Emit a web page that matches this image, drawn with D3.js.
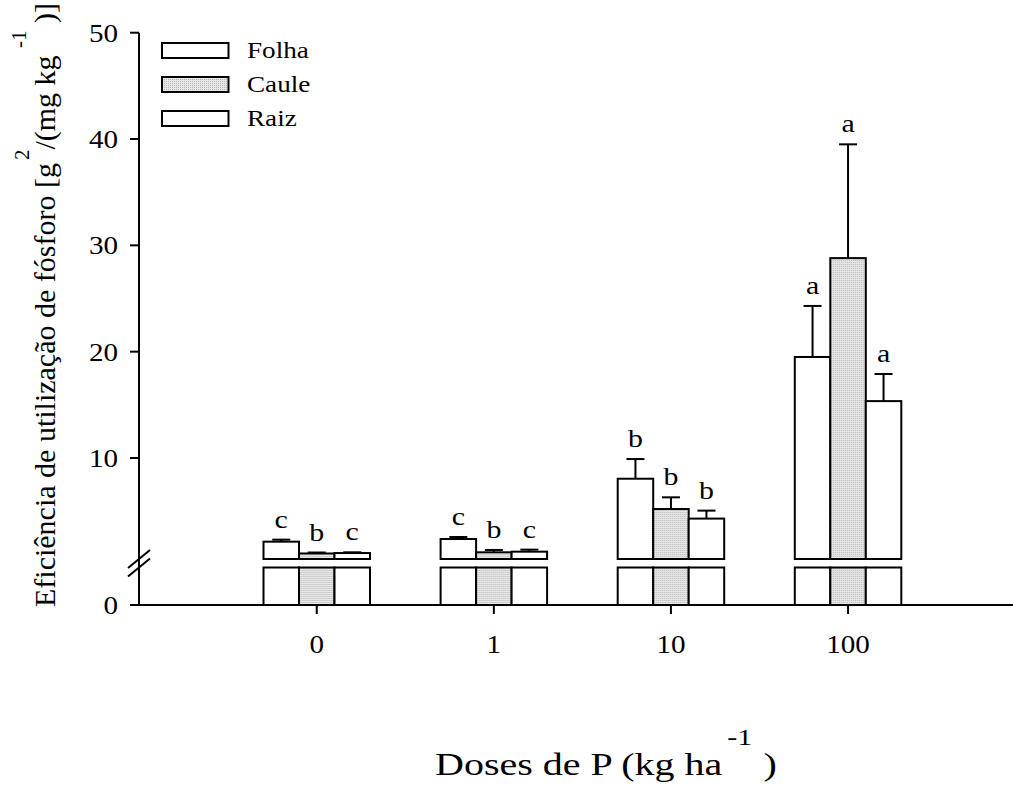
<!DOCTYPE html>
<html>
<head>
<meta charset="utf-8">
<script src="https://cdn.jsdelivr.net/npm/d3@7"></script>
<style>
  html, body { margin: 0; padding: 0; background: #fff; }
  svg text { font-family: "Liberation Serif", "Times New Roman", serif; fill: #000; }
</style>
</head>
<body>
<svg id="chart" width="1013" height="787"></svg>
<script>
// Phosphorus use efficiency by plant part and P dose
const doses = ["0", "1", "10", "100"];
const series = ["Folha", "Caule", "Raiz"];

const folha    = [2.13, 2.38, 8.05, 19.5];
const folhaErr = [0.19, 0.19, 1.85, 4.8];
const caule    = [1.02, 1.13, 5.2, 28.8];
const cauleErr = [0.09, 0.22, 1.1, 10.7];
const raiz     = [1.06, 1.19, 4.3, 15.35];
const raizErr  = [0.07, 0.19, 0.75, 2.55];

const folhaLetters = ["c", "c", "b", "a"];
const cauleLetters = ["b", "b", "b", "a"];
const raizLetters  = ["c", "c", "b", "a"];

const yTicksUpper = [10, 20, 30, 40, 50];
const yTicksLower = [0];
const breakValue = 0.5;

const svg = d3.select("#chart");
const defs = svg.append("defs");

// stippled grey fill for the stem series
const pat = defs.append("pattern")
  .attr("id", "stipple").attr("patternUnits", "userSpaceOnUse")
  .attr("width", 2).attr("height", 2);
pat.append("rect").attr("width", 2).attr("height", 2).attr("fill", "#e6e6e6");
pat.append("rect").attr("width", 1).attr("height", 1).attr("fill", "#b8b8b8");

const fills = { Folha: "#ffffff", Caule: "url(#stipple)", Raiz: "#ffffff" };

const rows = doses.map((d, i) => ({
  dose: d,
  bars: [
    { key: "Folha", v: folha[i], e: folhaErr[i], l: folhaLetters[i] },
    { key: "Caule", v: caule[i], e: cauleErr[i], l: cauleLetters[i] },
    { key: "Raiz",  v: raiz[i],  e: raizErr[i],  l: raizLetters[i] }
  ]
}));

// scales: broken y axis, lower and upper segments
const yAxisX = 139;
const yLow = d3.scaleLinear().domain([0, breakValue]).range([605, 567.5]);
const yUp  = d3.scaleLinear().domain([breakValue, 50]).range([559, 32.7]);

const x0 = d3.scaleBand().domain(doses).range([228.2, 936.6]).padding(0);
const groupW = 106.5;
const x1 = d3.scaleBand().domain(series).range([0, groupW]).padding(0);

const plot = svg.append("g");

// bars
const groups = plot.selectAll("g.grp").data(rows).join("g")
  .attr("class", "grp")
  .attr("transform", d => `translate(${x0(d.dose) + x0.bandwidth() / 2 - groupW / 2},0)`);

const bar = groups.selectAll("g.bar").data(d => d.bars).join("g").attr("class", "bar");

// lower segment piece
bar.append("rect")
  .attr("x", d => x1(d.key))
  .attr("width", x1.bandwidth())
  .attr("y", d => yLow(Math.min(d.v, breakValue)))
  .attr("height", d => yLow(0) - yLow(Math.min(d.v, breakValue)))
  .attr("fill", d => fills[d.key])
  .attr("stroke", "#000").attr("stroke-width", 2);

// upper segment piece
bar.filter(d => d.v > breakValue).append("rect")
  .attr("x", d => x1(d.key))
  .attr("width", x1.bandwidth())
  .attr("y", d => yUp(d.v))
  .attr("height", d => yUp(breakValue) - yUp(d.v))
  .attr("fill", d => fills[d.key])
  .attr("stroke", "#000").attr("stroke-width", 2);

// error bars (upper whisker only)
const capW = 18;
bar.append("line")
  .attr("x1", d => x1(d.key) + x1.bandwidth() / 2)
  .attr("x2", d => x1(d.key) + x1.bandwidth() / 2)
  .attr("y1", d => yUp(d.v))
  .attr("y2", d => yUp(d.v + d.e))
  .attr("stroke", "#000").attr("stroke-width", 2);
bar.append("line")
  .attr("x1", d => x1(d.key) + x1.bandwidth() / 2 - capW / 2)
  .attr("x2", d => x1(d.key) + x1.bandwidth() / 2 + capW / 2)
  .attr("y1", d => yUp(d.v + d.e))
  .attr("y2", d => yUp(d.v + d.e))
  .attr("stroke", "#000").attr("stroke-width", 2);

// significance letters
bar.append("text")
  .attr("transform", d => `translate(${x1(d.key) + x1.bandwidth() / 2},${yUp(d.v + d.e) - 12}) scale(1.15,1)`)
  .attr("text-anchor", "middle")
  .attr("font-size", 26)
  .text(d => d.l);

// y axis line and break marks
const axes = svg.append("g").attr("stroke", "#000").attr("stroke-width", 2);
axes.append("line").attr("x1", yAxisX).attr("x2", yAxisX)
  .attr("y1", yUp(50)).attr("y2", yLow(0));
[yUp(breakValue), yLow(breakValue)].forEach(yy => {
  axes.append("line")
    .attr("x1", yAxisX - 11).attr("y1", yy + 9)
    .attr("x2", yAxisX + 11).attr("y2", yy - 9)
    .attr("stroke-width", 2);
});
// x axis line
axes.append("line").attr("x1", 130).attr("x2", 1013)
  .attr("y1", yLow(0)).attr("y2", yLow(0));

// y ticks
const yTickData = yTicksLower.map(v => ({ v, y: yLow(v) }))
  .concat(yTicksUpper.map(v => ({ v, y: yUp(v) })));
const yt = svg.append("g");
yt.selectAll("line").data(yTickData).join("line")
  .attr("x1", yAxisX - 9).attr("x2", yAxisX)
  .attr("y1", d => d.y).attr("y2", d => d.y)
  .attr("stroke", "#000").attr("stroke-width", 2);
yt.selectAll("text").data(yTickData).join("text")
  .attr("transform", d => `translate(118,${d.y + 9}) scale(1.12,1)`)
  .attr("text-anchor", "end")
  .attr("font-size", 26)
  .text(d => d.v);

// x ticks
const xt = svg.append("g");
xt.selectAll("line").data(doses).join("line")
  .attr("x1", d => x0(d) + x0.bandwidth() / 2).attr("x2", d => x0(d) + x0.bandwidth() / 2)
  .attr("y1", yLow(0)).attr("y2", yLow(0) + 9)
  .attr("stroke", "#000").attr("stroke-width", 2);
xt.selectAll("text").data(doses).join("text")
  .attr("transform", d => `translate(${x0(d) + x0.bandwidth() / 2},${yLow(0) + 48}) scale(1.12,1)`)
  .attr("text-anchor", "middle")
  .attr("font-size", 26)
  .text(d => d);

// legend
const legend = svg.append("g").attr("transform", "translate(162,43)");
const li = legend.selectAll("g").data(series).join("g")
  .attr("transform", (d, i) => `translate(0,${i * 34})`);
li.append("rect").attr("width", 66.5).attr("height", 15)
  .attr("fill", d => fills[d]).attr("stroke", "#000").attr("stroke-width", 2);
li.append("text")
  .attr("transform", "translate(85,15) scale(1.18,1)")
  .attr("font-size", 23)
  .text(d => d);

// x axis title
const xTitle = svg.append("text")
  .attr("transform", "translate(435,775) scale(1.25,1)")
  .attr("font-size", 32);
xTitle.append("tspan").text("Doses de P (kg ha");
xTitle.append("tspan").attr("dx", 4).attr("dy", -30).attr("font-size", 24).text("-1");
xTitle.append("tspan").attr("dx", 9).attr("dy", 30).text(")");

// y axis title
const yTitle = svg.append("text")
  .attr("transform", "translate(55,607) rotate(-90)")
  .attr("text-anchor", "start")
  .attr("font-size", 30);
yTitle.append("tspan").text("Eficiência de utilização de fósforo [g");
yTitle.append("tspan").attr("dx", 3).attr("dy", -26).attr("font-size", 21).text("2");
yTitle.append("tspan").attr("dy", 26).text("/(mg kg ");
yTitle.append("tspan").attr("dy", -29).attr("font-size", 21).text("-1");
yTitle.append("tspan").attr("dy", 29).text(" )]");
</script>
</body>
</html>
